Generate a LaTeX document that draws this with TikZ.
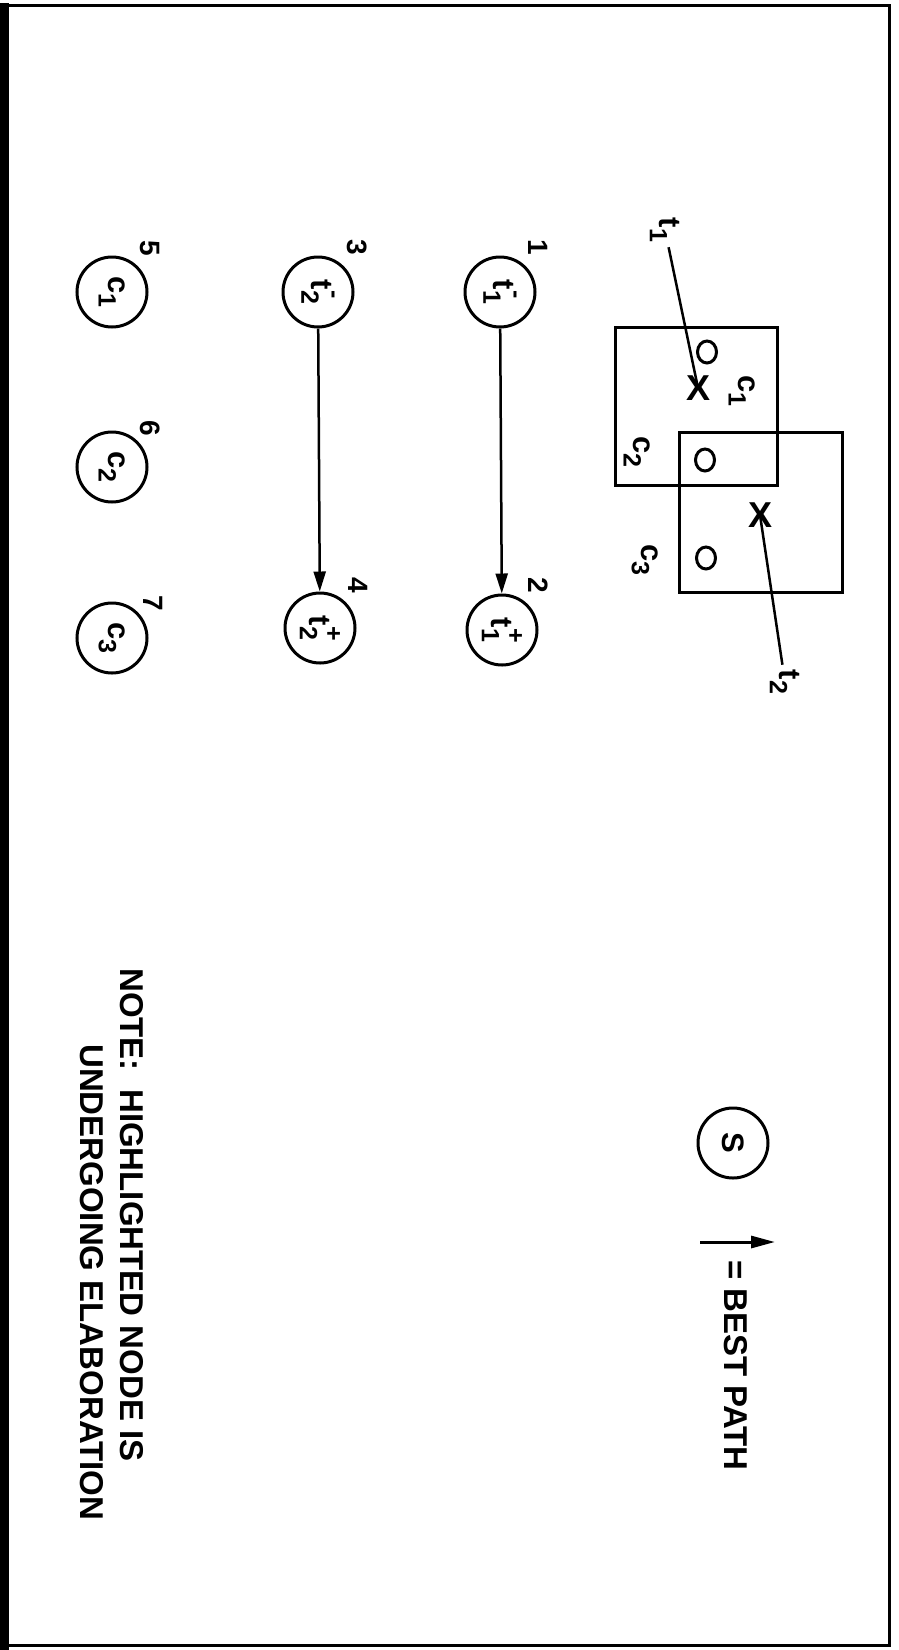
\documentclass[tikz,border=0pt]{standalone}
\usepackage{fontspec}
\setmainfont{Liberation Sans}
\usetikzlibrary{arrows.meta,shapes.geometric}
\newcommand{\tss}[3]{#1\rlap{\raisebox{0.5em}{\fontsize{25}{27}\selectfont #3}}\raisebox{-0.32em}{\fontsize{25}{27}\selectfont #2}}
\newcommand{\cs}[2]{#1\raisebox{-0.32em}{\fontsize{25}{27}\selectfont #2}}
\begin{document}
\begin{tikzpicture}[x=1pt,y=-1pt,
  big/.style={font=\fontsize{33}{38}\selectfont\bfseries, rotate=-90, inner sep=0pt},
  num/.style={font=\fontsize{28}{32}\selectfont\bfseries, rotate=-90, inner sep=0pt},
  lab/.style={font=\fontsize{31}{34}\selectfont\bfseries, rotate=-90, inner sep=1pt},
  state/.style={circle, draw, line width=3pt, minimum size=70pt, inner sep=0pt,
    font=\fontsize{31}{34}\selectfont\bfseries, rotate=-90},
  ring/.style={ellipse, draw, line width=3pt, minimum width=19pt, minimum height=22pt, inner sep=0pt},
  cross/.style={font=\fontsize{36}{38}\selectfont\bfseries, inner sep=0pt},
  arr/.style={line width=2.5pt, -{Triangle[length=20pt,width=12pt]}},
  box/.style={draw, line width=3pt}]
\useasboundingbox (0,0) rectangle (898,1650);
% frame
\draw[line width=3pt] (7,5) rectangle (889,1645);
\fill (0,3) rectangle (9,1650);
% boxes
\draw[box] (615,327) rectangle (777,485);
\draw[box] (679,432) rectangle (842,592);
\node[ring] (o1) at (707,352) {};
\node[ring] (o2) at (705,460) {};
\node[ring] (o3) at (706,558) {};
\node[lab] (lc1) at (742,391) {\cs{c}{1}};
\node[lab] (lc2) at (637,452) {\cs{c}{2}};
\node[lab] (lc3) at (645,560) {\cs{c}{3}};
\node[cross] (x1) at (698,388) {X};
\node[cross] (x2) at (760,515) {X};
\node[lab] (lt1) at (665,230) {\cs{t}{1}};
\node[lab] (lt2) at (785,682) {\cs{t}{2}};
\draw[line width=2.5pt, shorten <=4pt] (lt1) -- (x1.center);
\draw[line width=2.5pt, shorten <=4pt] (lt2) -- (x2.center);
% graph nodes
\node[state] (n1) at (500,292) {\tss{t}{1}{-}};
\node[state] (n2) at (502,630) {\tss{t}{1}{+}};
\node[state] (n3) at (318,292) {\tss{t}{2}{-}};
\node[state] (n4) at (320,628) {\tss{t}{2}{+}};
\node[state] (n5) at (112,292) {\cs{c}{1}};
\node[state] (n6) at (112,467) {\cs{c}{2}};
\node[state] (n7) at (112,638) {\cs{c}{3}};
\node[num] (k1) at (538,247) {1};
\node[num] (k2) at (538,585) {2};
\node[num] (k3) at (357,247) {3};
\node[num] (k4) at (358,585) {4};
\node[num] (k5) at (150,248) {5};
\node[num] (k6) at (150,428) {6};
\node[num] (k7) at (153,603) {7};
\draw[arr] (n1) -- (n2);
\draw[arr] (n3) -- (n4);
% legend
\node[state] (s) at (733,1143) {S};
\coordinate (la) at (700,1242);
\coordinate (lb) at (775,1242);
\draw[line width=3pt, -{Triangle[length=24pt,width=12pt]}] (la) -- (lb);
\node[big, anchor=west] (bp) at (736,1260) {= BEST PATH};
% note
\node[big, anchor=west] (note1) at (132,968) {NOTE:\ \ HIGHLIGHTED NODE IS};
\node[big, anchor=west] (note2) at (92,1044) {UNDERGOING ELABORATION};
\end{tikzpicture}
\end{document}
